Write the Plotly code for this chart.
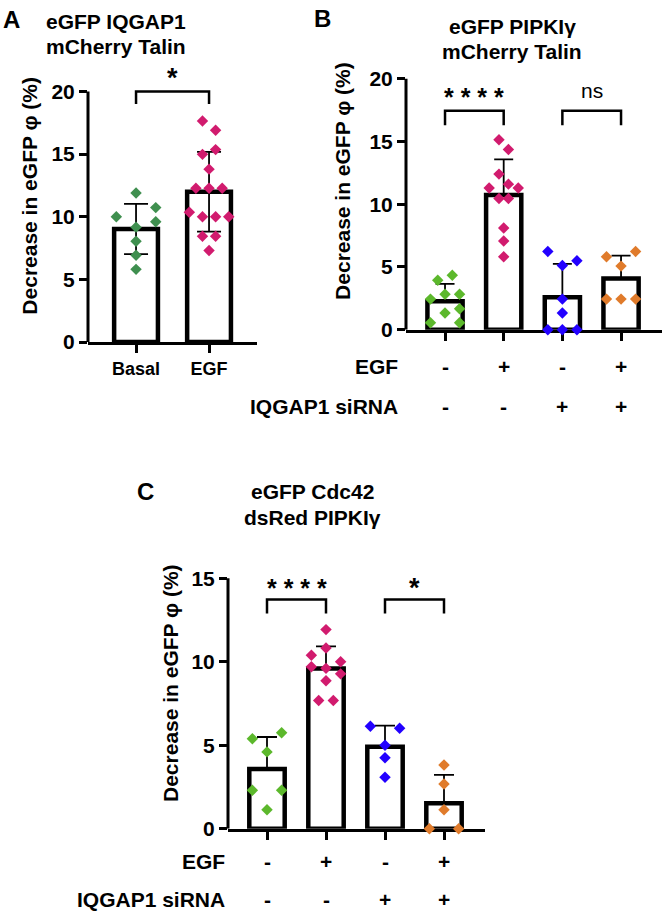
import plotly.graph_objects as go

FONT = "Liberation Sans, Arial, sans-serif"

# ---------------- data ----------------
# Panel A
a_labels = ["Basal", "EGF"]
a_mean = [9.02, 12.0]
a_sd = [2.0, 3.18]
a_basal = [11.9, 10.0, 10.73, 9.6, 9.17, 8.05, 6.93, 5.8]
a_basal_col = [0, -3, 3, 3, 0, 0, 0, 0]
a_egf = [17.65, 16.9, 15.36, 14.98, 13.8, 12.28, 12.28, 12.28, 10.36, 10.0, 10.0, 10.0, 8.44, 8.44, 7.3]
a_egf_col = [-1, 1, 1, -1, 0, -2, 0, 2, -3, -1, 1, 3, -1, 1, 0]

# Panel B
b_egf = ["-", "+", "-", "+"]
b_sirna = ["-", "-", "+", "+"]
b_mean = [2.28, 10.73, 2.58, 4.08]
b_sd = [1.38, 2.85, 2.67, 1.83]
b_g1 = [3.95, 4.34, 2.44, 2.83, 2.83, 1.34, 1.68, 0.56, 0.56]
b_g1_col = [-1, 1, -2, 0, 2, 0, 2, -2, 2]
b_g2 = [15.14, 14.36, 12.4, 11.6, 11.3, 11.3, 10.45, 10.45, 8.1, 7.07, 5.82]
b_g2_col = [-0.65, 0.65, -0.65, 0.65, -2, 2, -0.65, 0.65, 0, 0, 0]
b_g3 = [6.24, 5.12, 5.5, 2.44, 1.34, 0, 0, 0]
b_g3_col = [-2, 0, 2, 0, 0, -2, 0, 2]
b_g4 = [5.82, 6.24, 5.07, 2.44, 2.44, 2.44]
b_g4_col = [-2, 2, 0, -2, 0, 2]

# Panel C
c_egf = ["-", "+", "-", "+"]
c_sirna = ["-", "-", "+", "+"]
c_mean = [3.58, 9.59, 4.9, 1.53]
c_sd = [1.91, 1.32, 1.27, 1.69]
c_g1 = [5.39, 5.74, 4.6, 2.3, 2.3, 1.14]
c_g1_col = [-2, 2, 0, -2, 2, 0]
c_g2 = [11.92, 10.82, 10.39, 9.7, 10.0, 9.6, 9.27, 8.86, 7.68, 7.68]
c_g2_col = [0, 0, -2, -2, 2, 0, 2, 0, -1, 1]
c_g3 = [6.13, 6.02, 5.0, 4.25, 3.08]
c_g3_col = [-2, 2, 0, 0, 0]
c_g4 = [3.82, 2.68, 1.14, 0, 0]
c_g4_col = [0, 0, 0, -2, 2]

# ---------------- styles ----------------
GREEN_A = "#3f8f4f"
GREEN = "#5cb82c"
PINK = "#d11b6e"
BLUE = "#2200ff"
ORANGE = "#e07b2b"

W, H = 664, 920


def dx(l, r):
    return [l / W, r / W]


def dy(bottom, top):
    return [1 - bottom / H, 1 - top / H]


fig = go.Figure()

bar_style = dict(color="white", line=dict(color="black", width=4.5))


def add_panel(xa, ya, means, sd, groups, cols, colors, step, capw, lower):
    n = len(means)
    err = dict(type="data", array=sd, color="black", thickness=1.8, width=capw)
    if lower:
        err["symmetric"] = True
    else:
        err["symmetric"] = False
        err["arrayminus"] = [0] * n
    fig.add_trace(go.Bar(x=list(range(n)), y=means, width=0.6, marker=bar_style,
                         error_y=err, xaxis=xa, yaxis=ya, showlegend=False,
                         hoverinfo="skip"))
    for i, (vals, cc, colr) in enumerate(zip(groups, cols, colors)):
        fig.add_trace(go.Scatter(
            x=[i + c * step for c in cc], y=vals, mode="markers",
            marker=dict(symbol="diamond", size=8.8, color=colr, line=dict(width=0)),
            cliponaxis=False, xaxis=xa, yaxis=ya, showlegend=False, hoverinfo="skip"))


add_panel("x", "y", a_mean, a_sd, [a_basal, a_egf], [a_basal_col, a_egf_col],
          [GREEN_A, PINK], 0.09, 12, True)
add_panel("x2", "y2", b_mean, b_sd, [b_g1, b_g2, b_g3, b_g4],
          [b_g1_col, b_g2_col, b_g3_col, b_g4_col], [GREEN, PINK, BLUE, ORANGE], 0.124, 9.5, False)
add_panel("x3", "y3", c_mean, c_sd, [c_g1, c_g2, c_g3, c_g4],
          [c_g1_col, c_g2_col, c_g3_col, c_g4_col], [GREEN, PINK, BLUE, ORANGE], 0.124, 10, False)

tickfont = dict(family=FONT, size=21, color="black", weight="bold")


def xaxis(domain, rng, n, labels=None):
    d = dict(domain=domain, range=rng, showline=True, linewidth=3, linecolor="black",
             ticks="outside", ticklen=8, tickwidth=3, tickcolor="black",
             tickvals=list(range(n)), showgrid=False, zeroline=False, layer="below traces",
             fixedrange=True)
    if labels:
        d.update(ticktext=labels, tickfont=dict(family=FONT, size=18, color="black", weight="bold"),
                 ticklabelstandoff=0)
    else:
        d.update(showticklabels=False)
    return d


def yaxis(domain, rng, tv, anchor):
    return dict(domain=domain, range=rng, showline=False, ticks="outside", ticklen=8,
                tickwidth=3, tickcolor="black", tickvals=tv, tickfont=tickfont,
                showgrid=False, zeroline=False, anchor=anchor, fixedrange=True)


fig.update_layout(
    width=W, height=H, margin=dict(l=0, r=0, t=0, b=0),
    paper_bgcolor="white", plot_bgcolor="rgba(0,0,0,0)", hovermode=False,
    xaxis=dict(xaxis(dx(88, 257), [-0.658, 1.657], 2, a_labels), anchor="y"),
    yaxis=yaxis(dy(343, 343 - 22.5 * 12.75), [0, 22.5], [0, 5, 10, 15, 20], "x"),
    xaxis2=dict(xaxis(dx(406, 662), [-0.665, 3.698], 4), anchor="y2"),
    yaxis2=yaxis(dy(330.5, 330.5 - 20.5 * 12.775), [0, 20.5], [0, 5, 10, 15, 20], "x2"),
    xaxis3=dict(xaxis(dx(228, 485), [-0.661, 3.695], 4), anchor="y3"),
    yaxis3=yaxis(dy(838.3, 838.3 - 15.6 * 17), [0, 15.6], [0, 5, 10, 15], "x3"),
)

shapes = []
# y-axis lines, from 0 up to the top tick
for xr, yr, top in [("x", "y", 20), ("x2", "y2", 20), ("x3", "y3", 15)]:
    shapes.append(dict(type="line", xref=xr + " domain", yref=yr, x0=0, x1=0, y0=0, y1=top,
                       line=dict(color="black", width=3)))


def bracket(xr, yr, x0, x1, ylo, yhi):
    shapes.append(dict(type="path", xref=xr, yref=yr,
                       path=f"M {x0},{ylo} L {x0},{yhi} L {x1},{yhi} L {x1},{ylo}",
                       line=dict(color="black", width=2.5)))


bracket("x", "y", 0, 1, 19.0, 20.0)
bracket("x2", "y2", 0, 1, 16.3, 17.45)
bracket("x2", "y2", 2, 3, 16.3, 17.45)
bracket("x3", "y3", 0, 1, 12.88, 13.72)
bracket("x3", "y3", 2, 3, 12.88, 13.72)
fig.update_layout(shapes=shapes)

ann = []


def text(x, y, s, size=21, bold=True, xref="paper", yref="paper", xa="center", ya="middle",
         angle=0, yshift=0):
    ann.append(dict(x=x, y=y, xref=xref, yref=yref, text=s, showarrow=False,
                    xanchor=xa, yanchor=ya, textangle=angle, yshift=yshift,
                    font=dict(family=FONT, size=size, color="black",
                              weight="bold" if bold else "normal")))


def px(xp, yp):
    return xp / W, 1 - yp / H


# panel letters
for lbl, (xp, yp) in [("A", (11, 15)), ("B", (322, 14)), ("C", (145, 495))]:
    x, y = px(xp, yp)
    text(x, y, lbl, size=24)

# panel titles
for s, (xp, yp) in [("eGFP IQGAP1", (116, 17)), ("mCherry Talin", (116, 42)),
                    ("eGFP PIPKIγ", (512, 22)), ("mCherry Talin", (512, 47)),
                    ("eGFP Cdc42", (312, 495)), ("dsRed PIPKIγ", (312, 522))]:
    x, y = px(xp, yp)
    text(x, y, s, size=21)

# y-axis titles
for xp, yp in [(30, 194), (343, 179), (170, 690)]:
    x, y = px(xp, yp)
    text(x, y, "Decrease in eGFP φ (%)", size=21, angle=-90)

# significance
text(0.5, 21.2, "*", size=27, xref="x", yref="y", yshift=-2)
text(0.5, 18.8, "* * * *", size=25, xref="x2", yref="y2", yshift=-3)
text(2.5, 18.8, "ns", size=21, bold=False, xref="x2", yref="y2", yshift=3)
text(0.5, 14.7, "* * * *", size=25, xref="x3", yref="y3", yshift=-5)
text(2.5, 14.7, "*", size=27, xref="x3", yref="y3", yshift=-5)

# condition rows
for xr, right, y1, y2, egf, sir in [("x2", 400, 368, 409, b_egf, b_sirna),
                                     ("x3", 227, 872, 910, c_egf, c_sirna)]:
    x, yy = px(right, y1)
    text(x, yy, "EGF", xa="right")
    x, yy2 = px(right, y2)
    text(x, yy2, "IQGAP1 siRNA", xa="right")
    for i, (e, s) in enumerate(zip(egf, sir)):
        text(i, yy, e, xref=xr)
        text(i, yy2, s, xref=xr)

fig.update_layout(annotations=ann)

fig.write_html("out.html", config={"displayModeBar": False},
               post_script="document.body.style.margin='0';")
